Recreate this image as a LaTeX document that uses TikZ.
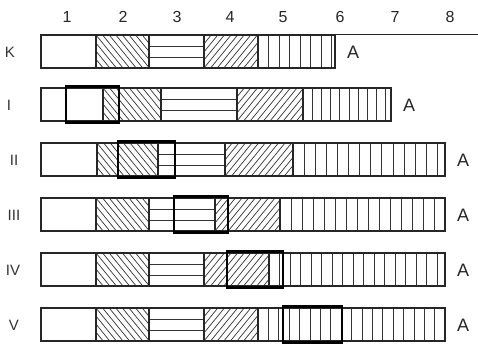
\documentclass[tikz,border=0pt]{standalone}
\usepackage{fontspec}
\setmainfont{Liberation Sans}
\tikzset{
  frame/.style={line width=1.3pt, draw=black!85},
  hatch/.style={line width=0.7pt, draw=black!80},
  boldbox/.style={line width=2.6pt, draw=black},
  numlabel/.style={font=\fontsize{16}{16}\selectfont, text=black!85, inner sep=0pt},
  rowlabel/.style={font=\fontsize{15}{15}\selectfont, text=black!80, inner sep=0pt},
  alabel/.style={font=\fontsize{18}{18}\selectfont, text=black!85, inner sep=0pt}
}
% hatch helpers: #1 x1, #2 x2, #3 ytop
\newcommand\hbs[3]{\begin{scope}\clip (#1,#3) rectangle (#2,#3+33);
  \foreach \k in {-6,...,14}{\draw[hatch] (#1+\k*6.6,#3) -- ++(27,33);}\end{scope}}
\newcommand\hfs[3]{\begin{scope}\clip (#1,#3) rectangle (#2,#3+33);
  \foreach \k in {-6,...,14}{\draw[hatch] (#1+\k*6.6,#3+33) -- ++(27,-33);}\end{scope}}
\newcommand\hhz[3]{\draw[hatch] (#1,#3+11) -- (#2,#3+11) (#1,#3+22) -- (#2,#3+22);}
% #4 spacing
\newcommand\hvt[4]{\begin{scope}\clip (#1,#3) rectangle (#2,#3+33);
  \foreach \k in {1,...,22}{\draw[hatch] (#1+\k*#4,#3) -- ++(0,33);}\end{scope}}
\newcommand\rowbar[7]{% ytop, x0, x1(bs), x2(hz), x3(fs), x4(vt), x5(end)
  \hbs{#3}{#4}{#1}\hhz{#4}{#5}{#1}\hfs{#5}{#6}{#1}
  \draw[frame] (#2,#1) rectangle (#7,#1+33);
  \foreach \xx in {#3,#4,#5,#6}{\draw[frame] (\xx,#1) -- (\xx,#1+33);}}
\begin{document}
\begin{tikzpicture}[x=1pt,y=-1pt]
\useasboundingbox (0,0) rectangle (478,345);
% column numbers
\foreach \n/\xx in {1/67,2/123,3/177,4/230,5/283,6/340,7/395,8/450}
  \node[numlabel] (n\n) at (\xx,17) {\n};
% top rule
\coordinate (tl) at (41,34.5);
\coordinate (tr) at (478,34.5);
\draw[frame] (tl) -- (tr);
% Row K
\hvt{258}{335}{35}{10.5}
\rowbar{35}{41}{96}{149}{204}{258}{335}
\node[rowlabel] (lK) at (10,52) {K};
\node[alabel] (aK) at (353,52) {A};
% Row I
\hvt{303}{391}{88}{9.2}
\rowbar{88}{41}{103}{161}{237}{303}{391}
\draw[boldbox] (66,86.5) rectangle (119,122.5);
\node[rowlabel] (lI) at (9,105) {I};
\node[alabel] (aI) at (409,105) {A};
% Row II
\hvt{293}{445}{143}{11.1}
\rowbar{143}{41}{97}{158}{225}{293}{445}
\draw[boldbox] (118,141.5) rectangle (175,177.5);
\node[rowlabel] (lII) at (14,160) {II};
\node[alabel] (aII) at (463,160) {A};
% Row III
\hvt{280}{445}{198}{11}
\rowbar{198}{41}{96}{149}{215}{280}{445}
\draw[boldbox] (174,196.5) rectangle (228,232.5);
\node[rowlabel] (lIII) at (14,215) {III};
\node[alabel] (aIII) at (463,215) {A};
% Row IV
\hvt{269}{445}{253}{10.5}
\rowbar{253}{41}{96}{149}{204}{269}{445}
\draw[boldbox] (227,251.5) rectangle (283,287.5);
\node[rowlabel] (lIV) at (13,270) {IV};
\node[alabel] (aIV) at (463,270) {A};
% Row V
\hvt{258}{445}{308}{10.4}
\rowbar{308}{41}{96}{149}{204}{258}{445}
\draw[boldbox] (283,306.5) rectangle (342,342.5);
\node[rowlabel] (lV) at (14,325) {V};
\node[alabel] (aV) at (463,325) {A};
\end{tikzpicture}
\end{document}
